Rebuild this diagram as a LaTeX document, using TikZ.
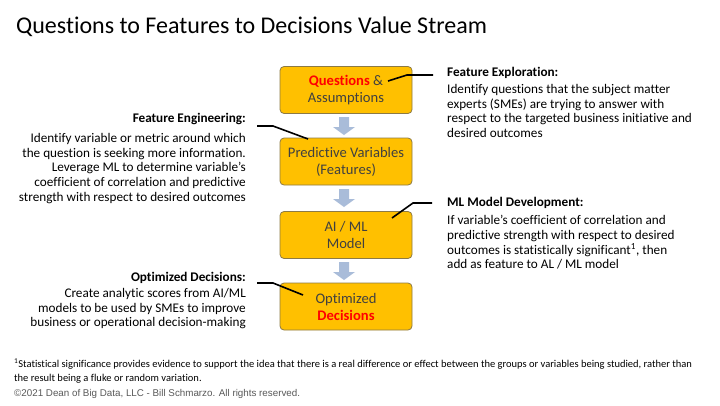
\documentclass[tikz,border=0pt]{standalone}
\usepackage{fontspec}
\setmainfont{Carlito}[Ligatures=NoCommon]
\newfontfamily\arialfont{Liberation Sans}
\definecolor{boxfill}{HTML}{FFC000}
\definecolor{boxline}{HTML}{8C7A45}
\definecolor{boxtext}{HTML}{404040}
\definecolor{arrowc}{HTML}{A9BCD9}
\definecolor{copyc}{HTML}{595959}
\tikzset{
  stepbox/.style={draw=boxline, line width=0.8pt, fill=boxfill, rounded corners=4pt,
    minimum width=132pt, minimum height=47pt, align=center, inner sep=0pt,
    text=boxtext, font=\fontsize{14.6}{17}\selectfont},
  head/.style={inner sep=0pt, font=\fontsize{13.2}{15}\selectfont\bfseries},
  body/.style={inner sep=0pt, font=\fontsize{13.2}{14.8}\selectfont},
  conn/.style={line width=1.6pt, black},
  downarrow/.pic={\fill[arrowc] (-5,0) -- (5,0) -- (5,10) -- (11,10) -- (0,18) -- (-11,10) -- (-5,10) -- cycle;}
}
\begin{document}
\begin{tikzpicture}[x=1pt,y=-1pt]
\useasboundingbox (0,0) rectangle (720,405);
\fill[white] (0,0) rectangle (720,405);
% title
\node[anchor=west, inner sep=0pt, font=\fontsize{24}{27}\selectfont] (title) at (16,27) {Questions to Features to Decisions Value Stream};
% boxes
\node[stepbox] (b1) at (346,90) {\textcolor{red}{\textbf{Questions}} \&\\Assumptions};
\node[stepbox] (b2) at (346,161.5) {Predictive Variables\\(Features)};
\node[stepbox] (b3) at (346,235) {AI / ML\\Model};
\node[stepbox] (b4) at (346,306.5) {Optimized\\\textcolor{red}{\textbf{Decisions}}};
% arrows
\pic at (344,117) {downarrow};
\pic at (344,189) {downarrow};
\pic at (344,262) {downarrow};
% right texts
\node[head, anchor=west] (h1) at (447,73) {Feature Exploration:};
\node[body, anchor=north west, align=left] (t1) at (447,84) {Identify questions that the subject matter\\experts (SMEs) are trying to answer with\\respect to the targeted business initiative and\\desired outcomes};
\node[head, anchor=west] (h3) at (447,203) {ML Model Development:};
\node[body, anchor=north west, align=left] (t3) at (447,215) {If variable’s coefficient of correlation and\\predictive strength with respect to desired\\outcomes is statistically significant\textsuperscript{1}, then\\add as feature to AL / ML model};
% left texts
\node[head, anchor=east] (h2) at (246,119) {Feature Engineering:};
\node[body, anchor=north east, align=right] (t2) at (246,133) {Identify variable or metric around which\\the question is seeking more information.\\Leverage ML to determine variable’s\\coefficient of correlation and predictive\\strength with respect to desired outcomes};
\node[head, anchor=east] (h4) at (246,278) {Optimized Decisions:};
\node[body, anchor=north east, align=right] (t4) at (246,288) {Create analytic scores from AI/ML\\models to be used by SMEs to improve\\business or operational decision-making};
% connectors
\coordinate (c1a) at (433,75); \coordinate (c1b) at (407,75); \coordinate (c1c) at (388,81);
\draw[conn] (c1a) -- (c1b) -- (c1c);
\coordinate (c2a) at (257,126); \coordinate (c2b) at (273,126); \coordinate (c2c) at (308,139);
\draw[conn] (c2a) -- (c2b) -- (c2c);
\coordinate (c3a) at (432,203); \coordinate (c3b) at (413,203); \coordinate (c3c) at (392,218);
\draw[conn] (c3a) -- (c3b) -- (c3c);
\coordinate (c4a) at (257,283); \coordinate (c4b) at (273,283); \coordinate (c4c) at (303,295);
\draw[conn] (c4a) -- (c4b) -- (c4c);
% footnote
\node[anchor=north west, inner sep=0pt, align=left, font=\fontsize{10.5}{14}\selectfont] (fn) at (14,358.5) {\textsuperscript{1}Statistical significance provides evidence to support the idea that there is a real difference or effect between the groups or variables being studied, rather than\\the result being a fluke or random variation.};
\node[anchor=west, inner sep=0pt, text=copyc, font=\arialfont\fontsize{9.8}{11}\selectfont] (copy) at (14,394) {©2021 Dean of Big Data, LLC - Bill Schmarzo. All rights reserved.};
\end{tikzpicture}
\end{document}
